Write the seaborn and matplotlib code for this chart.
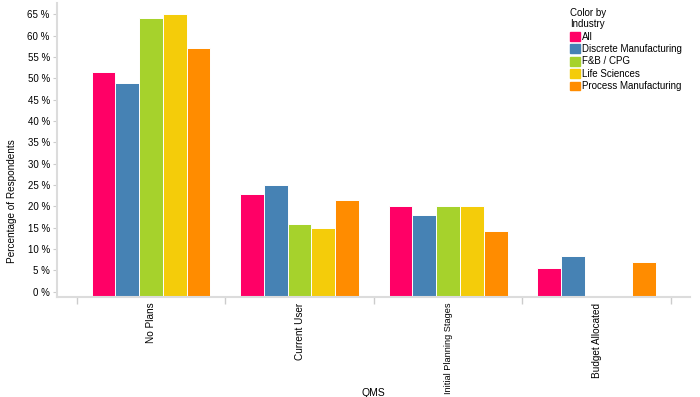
import matplotlib
matplotlib.use("Agg")
import matplotlib.pyplot as plt
import seaborn as sns
import pandas as pd
import numpy as np
from matplotlib.ticker import FuncFormatter, FixedLocator
from matplotlib.patches import Patch

# Data
stages = ['No Plans', 'Current User', 'Initial Planning Stages', 'Budget Allocated']
industries = ['All', 'Discrete Manufacturing', 'F&B / CPG', 'Life Sciences', 'Process Manufacturing']
all_vals = [51.5, 22.9, 20.0, 5.5]
discrete_vals = [48.8, 25.1, 18.0, 8.3]
fb_vals = [64.1, 16.0, 20.0, np.nan]
life_vals = [65.1, 15.0, 20.0, np.nan]
process_vals = [57.1, 21.5, 14.2, 7.0]
colors = ['#FF0066', '#4682B4', '#A6D22C', '#F4CC0A', '#FF8C00']

series = [all_vals, discrete_vals, fb_vals, life_vals, process_vals]
rows = []
for ind, vals in zip(industries, series):
    for st, v in zip(stages, vals):
        rows.append({'QMS': st, 'Industry': ind, 'Pct': v})
df = pd.DataFrame(rows)

plt.rcParams['font.family'] = ['Liberation Sans', 'DejaVu Sans']

fig = plt.figure(figsize=(7, 3.97), dpi=100)
ax = fig.add_axes([0.081, 0.252, 0.905, 0.740])

sns.barplot(data=df, x='QMS', y='Pct', hue='Industry', order=stages,
            hue_order=industries, palette=colors, width=0.8, gap=0,
            edgecolor='white', linewidth=0.7, saturation=1, legend=False, ax=ax)

ymin, ymax = -1.2, 67.6
ax.set_ylim(ymin, ymax)
ax.set_xlim(-0.635, 3.63)

# bars start at the bottom of the axis, like the reference
for p in ax.patches:
    h = p.get_height()
    if np.isfinite(h) and h > 0:
        p.set_y(ymin)
        p.set_height(h - ymin)

ax.set_yticks(np.arange(0, 66, 5))
ax.yaxis.set_major_formatter(FuncFormatter(lambda v, _: f'{v:.0f} %'))
ax.tick_params(axis='y', labelsize=7, length=3, color='#cccccc', pad=2)

ax.tick_params(axis='x', which='major', length=0, labelsize=7.2, labelrotation=90, pad=4)
ax.xaxis.set_minor_locator(FixedLocator(np.arange(-0.5, 4, 1)))
ax.tick_params(axis='x', which='minor', length=5, color='#cccccc', width=1)
# the long label would run off the bottom edge, shrink it a little
for lbl in ax.get_xticklabels():
    if len(lbl.get_text()) > 20:
        lbl.set_fontsize(6.6)

for s in ['top', 'right']:
    ax.spines[s].set_visible(False)
for s in ['left', 'bottom']:
    ax.spines[s].set_color('#dcdcdc')
    ax.spines[s].set_linewidth(1.5)

ax.set_ylabel('Percentage of Respondents', fontsize=7.2)
ax.yaxis.set_label_coords(-0.062, 0.327)
ax.set_xlabel('QMS', fontsize=7.5, labelpad=0)
ax.xaxis.set_label_coords(0.5, -0.31)

handles = [Patch(facecolor=c, edgecolor=c) for c in colors]
leg = fig.legend(handles, industries, title='Color by\nIndustry', loc='upper left',
                 bbox_to_anchor=(0.805, 0.998), frameon=False, fontsize=7,
                 title_fontsize=7, handlelength=1.0, handleheight=1.0,
                 handletextpad=0.2, labelspacing=0.25, borderpad=0.2)
leg._legend_box.align = 'left'

fig.savefig('out.png', dpi=100, facecolor='white')
